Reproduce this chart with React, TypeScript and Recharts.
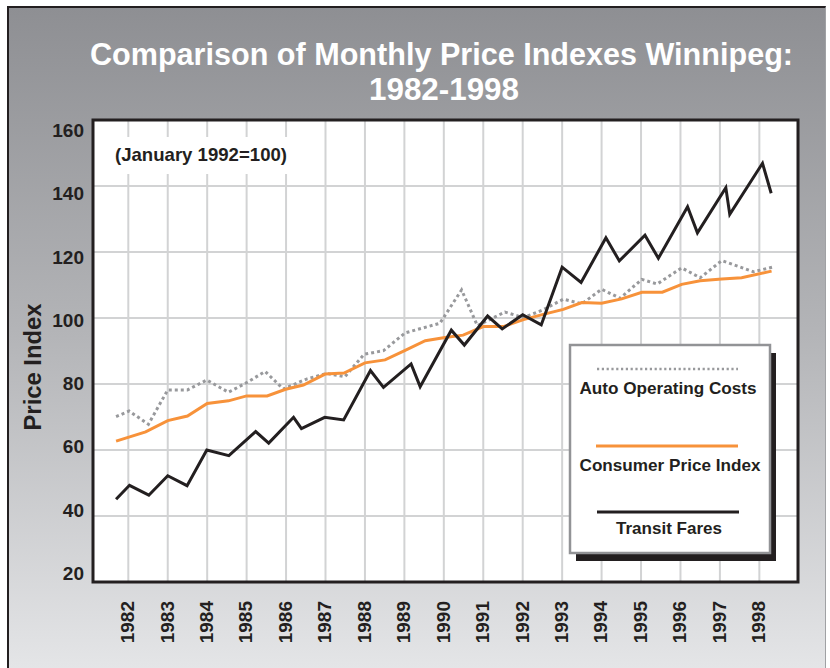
import React from "react";
import { LineChart, Line, XAxis, YAxis, CartesianGrid } from "recharts";

// ---- data (decimal year, index value) ----
const transitX = [1981.69, 1982.03, 1982.52, 1983.0, 1983.49, 1983.99, 1984.55, 1985.23, 1985.56, 1986.19, 1986.39, 1986.98, 1987.46, 1988.14, 1988.47, 1989.17, 1989.4, 1990.19, 1990.52, 1991.11, 1991.48, 1992.0, 1992.47, 1993.0, 1993.48, 1994.11, 1994.45, 1995.1, 1995.44, 1996.18, 1996.43, 1997.15, 1997.25, 1998.08, 1998.3];
const transitY = [45.1, 49.3, 46.3, 52.2, 49.2, 60, 58.3, 65.6, 62.1, 69.9, 66.5, 69.9, 69.1, 84.1, 79, 86.1, 79.2, 96.3, 91.8, 100.6, 96.7, 101, 97.9, 115.4, 110.8, 124.3, 117.3, 125.1, 118.1, 133.7, 125.8, 139.5, 131.4, 146.9, 137.8];

const cpiX = [1981.69, 1982.44, 1983.0, 1983.5, 1984.0, 1984.54, 1985.0, 1985.52, 1985.99, 1986.44, 1986.99, 1987.47, 1988.0, 1988.51, 1989.02, 1989.53, 1990.03, 1990.49, 1991.0, 1991.51, 1992.02, 1992.52, 1993.03, 1993.5, 1994.0, 1994.51, 1995.02, 1995.54, 1996.03, 1996.5, 1997.05, 1997.55, 1998.31];
const cpiY = [62.7, 65.5, 68.9, 70.3, 74.1, 74.9, 76.4, 76.4, 78.4, 79.7, 83.0, 83.3, 86.4, 87.3, 90.2, 93.1, 94.1, 94.8, 97.4, 97.4, 99.5, 101.1, 102.6, 104.7, 104.5, 105.8, 107.8, 107.8, 110.2, 111.3, 111.8, 112.2, 114.2];

const autoX = [1981.69, 1982.02, 1982.51, 1983.0, 1983.5, 1983.99, 1984.54, 1985.0, 1985.47, 1985.93, 1986.52, 1987.03, 1987.49, 1987.98, 1988.47, 1989.02, 1989.9, 1990.45, 1990.85, 1991.55, 1992.02, 1992.52, 1993.03, 1993.5, 1994.0, 1994.47, 1995.02, 1995.41, 1996.03, 1996.5, 1997.05, 1997.85, 1998.33];
const autoY = [70.1, 71.8, 67.8, 78.2, 78.2, 81.2, 77.5, 80.4, 83.8, 78.5, 81.5, 83.2, 82.2, 89.0, 90.1, 95.5, 98.4, 108.5, 97.7, 101.8, 100.1, 102.5, 105.7, 104.3, 108.7, 106.0, 111.7, 110.3, 115.2, 112.2, 117.4, 114.0, 115.4];

const yearTicks = [1982, 1983, 1984, 1985, 1986, 1987, 1988, 1989, 1990, 1991, 1992, 1993, 1994, 1995, 1996, 1997, 1998];
const valueTicks = [20, 40, 60, 80, 100, 120, 140, 160];

const seriesNames = ["Auto Operating Costs", "Consumer Price Index", "Transit Fares"];

const toRows = (xs: number[], ys: number[]) => xs.map((x, i) => ({ x, y: ys[i] }));
const transitData = toRows(transitX, transitY);
const cpiData = toRows(cpiX, cpiY);
const autoData = toRows(autoX, autoY);

const FONT = "'Liberation Sans', Arial, Helvetica, sans-serif";
const INK = "#231f20";
const ORANGE = "#f7923a";
const GRAYLINE = "#98999c";

const XTick = (props: any) => {
  const { x, y, payload } = props;
  return (
    <text
      transform={`translate(${x - 1},${y}) rotate(-90)`}
      textAnchor="end"
      dy="0.36em"
      fontFamily={FONT}
      fontWeight="bold"
      fontSize={19}
      fill={INK}
    >
      {payload.value}
    </text>
  );
};

const YTick = (props: any) => {
  const { x, y, payload } = props;
  const shift = (payload.value - 85) * 0.135;
  return (
    <text
      x={x}
      y={y + shift}
      textAnchor="end"
      dy="0.36em"
      fontFamily={FONT}
      fontWeight="bold"
      fontSize={19}
      fill={INK}
    >
      {payload.value}
    </text>
  );
};

export default function App() {
  return (
    <div
      style={{
        position: "absolute",
        left: 0,
        top: 0,
        width: 830,
        height: 668,
        overflow: "hidden",
        background: "#ffffff",
        fontFamily: FONT,
      }}
    >
      <div
        style={{
          position: "absolute",
          left: 7,
          top: 6,
          width: 819,
          height: 662,
          boxSizing: "border-box",
          borderTop: `2px solid ${INK}`,
          borderLeft: `2px solid ${INK}`,
          borderRight: "1px solid #a0a1a4",
          background: "linear-gradient(to bottom, #8e8f93 0%, #b4b5b8 50%, #e4e5e7 100%)",
        }}
      />
      <div
        style={{
          position: "absolute",
          left: 93,
          top: 120,
          width: 705,
          height: 462,
          background: "#ffffff",
        }}
      />
      <div style={{ position: "absolute", left: 0, top: 0 }}>
        <LineChart
          width={830}
          height={668}
          margin={{ top: 120, right: 32, bottom: 16, left: 33 }}
        >
          <CartesianGrid stroke="#d2d3d4" strokeWidth={2} />
          <XAxis
            type="number"
            dataKey="x"
            domain={[1981.105, 1998.98]}
            allowDataOverflow
            ticks={yearTicks}
            interval={0}
            height={70}
            tickSize={0}
            tickMargin={19}
            axisLine={false}
            tickLine={false}
            tick={<XTick />}
          />
          <YAxis
            type="number"
            domain={[20, 160]}
            allowDataOverflow
            ticks={valueTicks}
            interval={0}
            width={60}
            tickSize={0}
            tickMargin={9}
            axisLine={false}
            tickLine={false}
            tick={<YTick />}
          />
          <Line
            data={autoData}
            dataKey="y"
            name={seriesNames[0]}
            type="linear"
            stroke={GRAYLINE}
            strokeWidth={3}
            strokeDasharray="3 3"
            dot={false}
            activeDot={false}
            isAnimationActive={false}
          />
          <Line
            data={cpiData}
            dataKey="y"
            name={seriesNames[1]}
            type="linear"
            stroke={ORANGE}
            strokeWidth={3}
            dot={false}
            activeDot={false}
            isAnimationActive={false}
          />
          <Line
            data={transitData}
            dataKey="y"
            name={seriesNames[2]}
            type="linear"
            stroke={INK}
            strokeWidth={3}
            strokeLinejoin="miter"
            dot={false}
            activeDot={false}
            isAnimationActive={false}
          />
        </LineChart>
      </div>
      <svg
        width={830}
        height={668}
        style={{ position: "absolute", left: 0, top: 0, pointerEvents: "none" }}
        fontFamily={FONT}
        fontWeight="bold"
      >
        <rect x={93} y={120} width={705} height={462} fill="none" stroke={INK} strokeWidth={3} />
        <text x={441.5} y={65} textAnchor="middle" fontSize={32} fill="#ffffff" textLength={703} lengthAdjust="spacingAndGlyphs">
          Comparison of Monthly Price Indexes Winnipeg:
        </text>
        <text x={444} y={100} textAnchor="middle" fontSize={32} fill="#ffffff" textLength={150} lengthAdjust="spacingAndGlyphs">
          1982-1998
        </text>
        <text
          transform="translate(33,367) rotate(-90)"
          textAnchor="middle"
          dy="0.36em"
          fontSize={23}
          fill={INK}
          textLength={127}
          lengthAdjust="spacingAndGlyphs"
        >
          Price Index
        </text>
        <rect x={100} y={137} width={195} height={37} fill="#ffffff" />
        <text x={115} y={161} fontSize={18.5} fill={INK} textLength={172} lengthAdjust="spacingAndGlyphs">
          (January 1992=100)
        </text>
        {/* legend */}
        <rect x={576} y={353} width={200} height={208} fill={INK} />
        <rect x={570} y={345} width={200} height={208} fill="#ffffff" stroke="#929396" strokeWidth={2.5} />
        <line x1={597} y1={369} x2={738} y2={369} stroke={GRAYLINE} strokeWidth={2.5} strokeDasharray="2.2 2.6" />
        <text x={668} y={394} textAnchor="middle" fontSize={17} fill={INK} textLength={177} lengthAdjust="spacingAndGlyphs">
          {seriesNames[0]}
        </text>
        <line x1={596} y1={446} x2={738} y2={446} stroke={ORANGE} strokeWidth={3} />
        <text x={670} y={471} textAnchor="middle" fontSize={17} fill={INK} textLength={181} lengthAdjust="spacingAndGlyphs">
          {seriesNames[1]}
        </text>
        <line x1={597} y1={512} x2={739} y2={512} stroke={INK} strokeWidth={3} />
        <text x={669} y={534} textAnchor="middle" fontSize={17} fill={INK} textLength={106} lengthAdjust="spacingAndGlyphs">
          {seriesNames[2]}
        </text>
      </svg>
    </div>
  );
}
